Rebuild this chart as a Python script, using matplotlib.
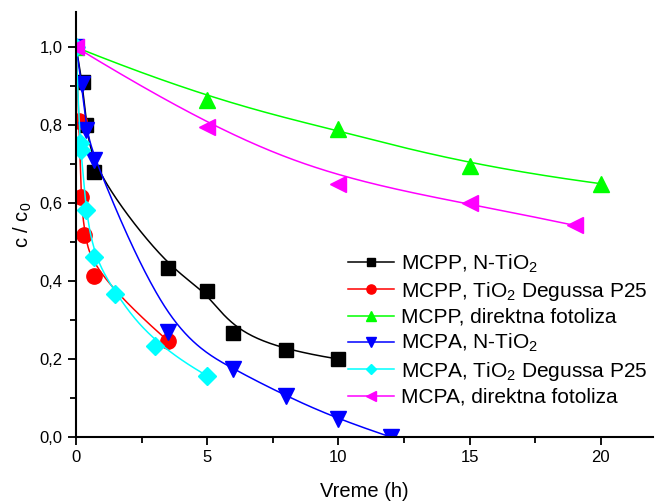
import numpy as np
import matplotlib
matplotlib.use('Agg')
import matplotlib.pyplot as plt
from matplotlib.ticker import MultipleLocator, FuncFormatter

plt.rcParams['font.family'] = ['Liberation Sans', 'DejaVu Sans']
plt.rcParams['mathtext.fontset'] = 'custom'
plt.rcParams['mathtext.rm'] = 'Liberation Sans'
plt.rcParams['mathtext.it'] = 'Liberation Sans:italic'

# MCPP, N-TiO2
mcpp_n_x = [0, 0.25, 0.38, 0.67, 3.5, 5, 6, 8, 10]
mcpp_n_y = [1.0, 0.91, 0.80, 0.68, 0.433, 0.374, 0.268, 0.222, 0.20]
# MCPP, TiO2 Degussa P25
mcpp_p25_x = [0, 0.12, 0.18, 0.32, 0.7, 3.5]
mcpp_p25_y = [1.0, 0.811, 0.615, 0.518, 0.413, 0.247]
# MCPP, direktna fotoliza
mcpp_dir_x = [0, 5, 10, 15, 20]
mcpp_dir_y = [1.0, 0.865, 0.79, 0.695, 0.65]
# MCPA, N-TiO2
mcpa_n_x = [0, 0.22, 0.38, 0.7, 3.5, 6, 8, 10, 12]
mcpa_n_y = [1.0, 0.907, 0.787, 0.712, 0.27, 0.174, 0.105, 0.045, 0.0]
# MCPA, TiO2 Degussa P25
mcpa_p25_x = [0, 0.15, 0.2, 0.37, 0.7, 1.5, 3.0, 5.0]
mcpa_p25_y = [1.0, 0.754, 0.736, 0.582, 0.462, 0.366, 0.234, 0.157]
# MCPA, direktna fotoliza
mcpa_dir_x = [0, 5, 10, 15, 19]
mcpa_dir_y = [1.0, 0.795, 0.65, 0.60, 0.543]


def bspline(xs, ys, k=3, n=300):
    # clamped B-spline with the points as control polygon (like Origin's B-spline line)
    P = np.column_stack([xs, ys]).astype(float)
    m = len(P)
    k = min(k, m - 1)
    t = np.concatenate([np.zeros(k), np.linspace(0, 1, m - k + 1), np.ones(k)])
    u = np.linspace(0, 1, n)
    u[-1] -= 1e-9
    N = np.zeros((n, len(t) - 1))
    for i in range(len(t) - 1):
        N[:, i] = (t[i] <= u) & (u < t[i + 1])
    for p in range(1, k + 1):
        Nn = np.zeros((n, len(t) - 1 - p))
        for i in range(len(t) - 1 - p):
            a = 0.0
            d1 = t[i + p] - t[i]
            if d1 > 0:
                a = (u - t[i]) / d1 * N[:, i]
            b = 0.0
            d2 = t[i + p + 1] - t[i + 1]
            if d2 > 0:
                b = (t[i + p + 1] - u) / d2 * N[:, i + 1]
            Nn[:, i] = a + b
        N = Nn
    C = N[:, :m] @ P
    return C[:, 0], C[:, 1]


series = [
    (mcpp_n_x, mcpp_n_y, 'black', 's', 10, 'MCPP, N-TiO$_2$'),
    (mcpp_p25_x, mcpp_p25_y, 'red', 'o', 11, 'MCPP, TiO$_2$ Degussa P25'),
    (mcpp_dir_x, mcpp_dir_y, '#00ff00', '^', 11, 'MCPP, direktna fotoliza'),
    (mcpa_n_x, mcpa_n_y, 'blue', 'v', 11, 'MCPA, N-TiO$_2$'),
    (mcpa_p25_x, mcpa_p25_y, 'cyan', 'D', 9, 'MCPA, TiO$_2$ Degussa P25'),
    (mcpa_dir_x, mcpa_dir_y, 'magenta', '<', 11, 'MCPA, direktna fotoliza'),
]

fig = plt.figure(figsize=(6.65, 5.01), dpi=100)
ax = fig.add_axes([0.1143, 0.1277, 0.868, 0.848])

for xs, ys, c, mk, ms, lab in series:
    cx, cy = bspline(xs, ys)
    ax.plot(cx, cy, color=c, lw=1.1)
    ax.plot(xs, ys, ls='none', marker=mk, ms=ms, color=c, mec=c)
    ax.plot([], [], color=c, lw=1.1, marker=mk, ms=ms, mec=c, label=lab)

ax.set_xlim(0, 22)
ax.set_ylim(0, 1.09)
ax.xaxis.set_major_locator(MultipleLocator(5))
ax.xaxis.set_minor_locator(MultipleLocator(2.5))
ax.yaxis.set_major_locator(MultipleLocator(0.2))
ax.yaxis.set_minor_locator(MultipleLocator(0.1))
ax.yaxis.set_major_formatter(FuncFormatter(lambda v, p: f"{v:.1f}".replace('.', ',')))
ax.tick_params(which='major', direction='out', length=6, width=1.3, labelsize=12)
ax.tick_params(which='minor', direction='out', length=4, width=1.3)
for s in ['top', 'right']:
    ax.spines[s].set_visible(False)
for s in ['left', 'bottom']:
    ax.spines[s].set_linewidth(1.5)

ax.set_xlabel('Vreme (h)', fontsize=14.5, labelpad=12)
ax.set_ylabel('c / c$_0$', fontsize=14.5, labelpad=4)

ax.legend(loc='upper left', bbox_to_anchor=(0.472, 0.435), frameon=False, fontsize=15,
          handlelength=2.2, handletextpad=0.3, labelspacing=0.25, markerscale=0.6,
          borderaxespad=0, borderpad=0)

fig.savefig('out.png', dpi=100)
